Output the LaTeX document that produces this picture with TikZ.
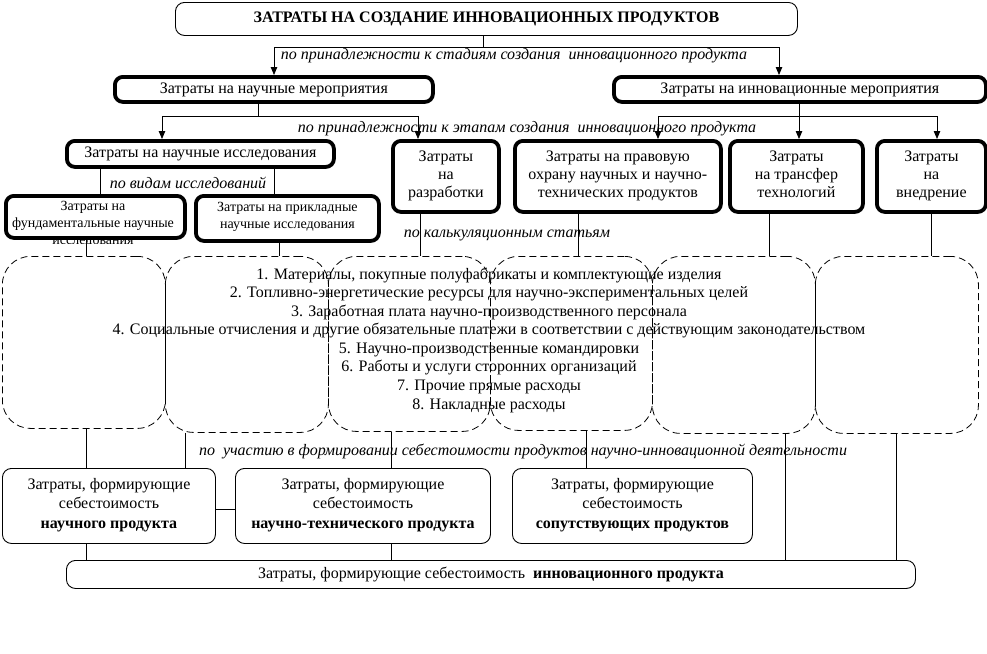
\documentclass[tikz,border=0pt]{standalone}
\usepackage{fontspec}
\setmainfont{Liberation Serif}
\usetikzlibrary{arrows.meta}
\newcommand\cornerbox[7]{\node[#1, anchor=north west, minimum width={#5-#3}, minimum height={#6-#4}] (#2) at (#3,#4) {#7};}
\begin{document}
\begin{tikzpicture}[x=1pt,y=-1pt,
  every node/.style={font=\fontsize{16}{18}\selectfont, inner sep=0pt, align=center},
  strutted/.style={execute at begin node=\strut, execute at end node=\strut},
  thinbox/.style={draw, line width=0.9pt, rounded corners=9pt, strutted},
  thickbox/.style={draw, line width=3.8pt, rounded corners=8pt, strutted},
  dashbox/.style={draw, line width=0.8pt, dash pattern=on 7pt off 4pt, rounded corners=28pt},
  smalltext/.style={font=\fontsize{14}{17}\selectfont},
  costtext/.style={font=\fontsize{16}{19.5}\selectfont},
  lbl/.style={font=\fontsize{16}{18}\selectfont\itshape},
  conn/.style={line width=0.8pt},
  arr/.style={conn, -{Triangle[length=8pt,width=6.5pt]}},
]
\useasboundingbox (0,0) rectangle (987,653);

% dashed boxes
\cornerbox{dashbox}{d1}{2}{256}{165}{428}{}
\cornerbox{dashbox}{d2}{165}{256}{328}{432}{}
\cornerbox{dashbox}{d3}{328}{256}{490}{431}{}
\cornerbox{dashbox}{d4}{490}{256}{652}{430}{}
\cornerbox{dashbox}{d5}{652}{256}{815}{433}{}
\cornerbox{dashbox}{d6}{815}{256}{978}{433}{}

% top
\cornerbox{thinbox}{top}{175}{2}{797}{35}{\textbf{ЗАТРАТЫ НА СОЗДАНИЕ ИННОВАЦИОННЫХ ПРОДУКТОВ}}
\cornerbox{thickbox}{sci}{113}{75}{431}{100}{Затраты на научные мероприятия}
\cornerbox{thickbox}{inn}{612}{75}{984}{100}{Затраты на инновационные мероприятия}

\cornerbox{thickbox}{res}{65}{139}{332}{165}{Затраты на научные исследования}
\cornerbox{thickbox}{dev}{391}{139}{497}{210}{Затраты\\на\\разработки}
\cornerbox{thickbox}{law}{513}{139}{719}{210}{Затраты на правовую\\охрану научных и научно-\\технических продуктов}
\cornerbox{thickbox}{tr}{728}{139}{861}{210}{Затраты\\на трансфер\\технологий}
\cornerbox{thickbox}{impl}{875}{139}{984}{210}{Затраты\\на\\внедрение}

\cornerbox{thickbox}{fund}{4}{194}{183}{236}{}
\begin{scope}
\clip (0,190) rectangle (200,243);
\node[smalltext] (fundtext) at (93,224) {Затраты на\\фундаментальные научные\\исследования};
\end{scope}
\cornerbox{thickbox,smalltext}{appl}{194}{194}{377}{239}{Затраты на прикладные\\научные исследования}

% bottom boxes
\cornerbox{thinbox,costtext}{b1}{2}{468}{215}{543}{Затраты, формирующие\\себестоимость\\\textbf{научного продукта}}
\cornerbox{thinbox,costtext}{b2}{235}{468}{490}{543}{Затраты, формирующие\\себестоимость\\\textbf{научно-технического продукта}}
\cornerbox{thinbox,costtext}{b3}{512}{468}{752}{543}{Затраты, формирующие\\себестоимость\\\textbf{сопутствующих продуктов}}
\cornerbox{thinbox}{fin}{66}{560}{915}{588}{Затраты, формирующие себестоимость \ \textbf{инновационного продукта}}

% list
\node[font=\fontsize{16}{18.57}\selectfont] (list) at (489,340) {1. Материалы, покупные полуфабрикаты и комплектующие изделия\\
2. Топливно-энергетические ресурсы для научно-экспериментальных целей\\
3. Заработная плата научно-производственного персонала\\
4. Социальные отчисления и другие обязательные платежи в соответствии с действующим законодательством\\
5. Научно-производственные командировки\\
6. Работы и услуги сторонних организаций\\
7. Прочие прямые расходы\\
8. Накладные расходы};

% labels
\node[lbl] (l1) at (514,56) {по принадлежности к стадиям создания \ инновационного продукта};
\node[lbl] (l2) at (527,129) {по принадлежности к этапам создания \ инновационного продукта};
\node[lbl] (l3) at (188,183) {по видам исследований};
\node[lbl] (l4) at (507,235) {по калькуляционным статьям};
\node[lbl] (l5) at (523,451) {по \ участию в формировании себестоимости продуктов научно-инновационной деятельности};

% connectors level 1
\coordinate (j1) at (483,47); \coordinate (j1l) at (274,47); \coordinate (j1r) at (779,47);
\draw[conn] (top.south -| j1) -- (j1);
\draw[conn] (j1l) -- (j1r);
\draw[arr] (j1l) -- (j1l |- sci.north);
\draw[arr] (j1r) -- (j1r |- inn.north);

% level 2 scientific
\coordinate (j2) at (258,116); \coordinate (j2l) at (162,116); \coordinate (j2r) at (418,116);
\draw[conn] (sci.south -| j2) -- (j2);
\draw[conn] (j2l) -- (j2r);
\draw[arr] (j2l) -- (j2l |- res.north);
\draw[arr] (j2r) -- (j2r |- dev.north);

% level 2 innovation
\coordinate (j3) at (799,116); \coordinate (j3l) at (658,116); \coordinate (j3r) at (937,116);
\draw[conn] (inn.south -| j3) -- (j3);
\draw[conn] (j3l) -- (j3r);
\draw[arr] (j3l) -- (j3l |- law.north);
\draw[arr] (j3) -- (j3 |- tr.north);
\draw[arr] (j3r) -- (j3r |- impl.north);

% research kinds
\coordinate (k1) at (100,0); \coordinate (k2) at (274,0);
\draw[conn] (res.south -| k1) -- (fund.north -| k1);
\draw[conn] (res.south -| k2) -- (appl.north -| k2);

% to dashed boxes
\coordinate (m1) at (86,0); \coordinate (m2) at (279,0); \coordinate (m3) at (420,0);
\coordinate (m4) at (578,0); \coordinate (m5) at (769,0); \coordinate (m6) at (931,0);
\draw[conn] (fund.south -| m1) -- (d1.north -| m1);
\draw[conn] (appl.south -| m2) -- (d2.north -| m2);
\draw[conn] (dev.south -| m3) -- (d3.north -| m3);
\draw[conn] (law.south -| m4) -- (d4.north -| m4);
\draw[conn] (tr.south -| m5) -- (d5.north -| m5);
\draw[conn] (impl.south -| m6) -- (d6.north -| m6);

% from dashed boxes down
\coordinate (n1) at (86,0); \coordinate (n2) at (185,0); \coordinate (n3) at (391,0);
\coordinate (n4) at (586,0); \coordinate (n5) at (785,0); \coordinate (n6) at (896,0);
\draw[conn] (d1.south -| n1) -- (b1.north -| n1);
\draw[conn] (d2.south -| n2) -- (b1.north -| n2);
\draw[conn] (d3.south -| n3) -- (b2.north -| n3);
\draw[conn] (d4.south -| n4) -- (b3.north -| n4);
\draw[conn] (d5.south -| n5) -- (fin.north -| n5);
\draw[conn] (d6.south -| n6) -- (fin.north -| n6);

% bottom links
\coordinate (h) at (0,509);
\draw[conn] (b1.east |- h) -- (b2.west |- h);
\draw[conn] (b1.south -| n1) -- (fin.north -| n1);
\draw[conn] (b2.south -| n3) -- (fin.north -| n3);
\end{tikzpicture}
\end{document}
